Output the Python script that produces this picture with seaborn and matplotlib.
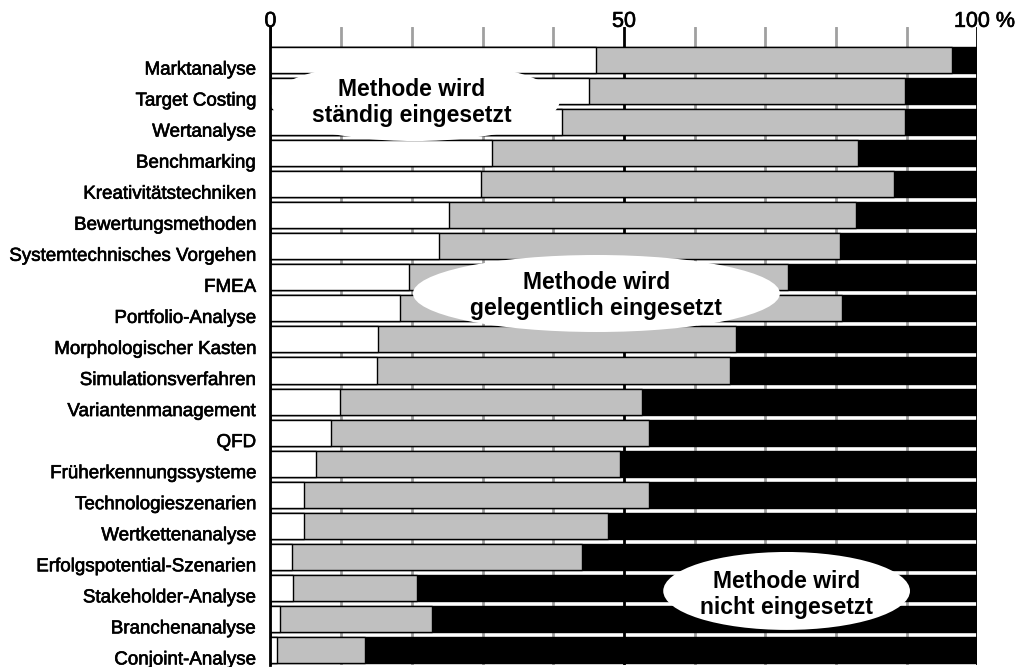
import matplotlib
matplotlib.use("Agg")
import matplotlib.pyplot as plt
import matplotlib.patheffects as pe
import seaborn as sns
import pandas as pd
from matplotlib.patches import Ellipse
from matplotlib.transforms import ScaledTranslation

# ---- data (percent of companies) ----
methods = [
    "Marktanalyse", "Target Costing", "Wertanalyse", "Benchmarking",
    "Kreativitätstechniken", "Bewertungsmethoden", "Systemtechnisches Vorgehen",
    "FMEA", "Portfolio-Analyse", "Morphologischer Kasten", "Simulationsverfahren",
    "Variantenmanagement", "QFD", "Früherkennungssysteme", "Technologieszenarien",
    "Wertkettenanalyse", "Erfolgspotential-Szenarien", "Stakeholder-Analyse",
    "Branchenanalyse", "Conjoint-Analyse",
]
staendig = [46.1, 45.0, 41.3, 31.3, 29.8, 25.3, 23.8, 19.6, 18.3, 15.2,
            15.0, 9.9, 8.5, 6.5, 4.7, 4.8, 3.0, 3.2, 1.4, 0.9]
gelegentlich = [50.3, 44.7, 48.4, 51.8, 58.4, 57.5, 56.7, 53.6, 62.5, 50.7,
                50.0, 42.6, 45.1, 43.0, 48.9, 43.0, 41.0, 17.5, 21.4, 12.5]
nicht = [round(100 - a - b, 1) for a, b in zip(staendig, gelegentlich)]

tick_values = [0, 50, 100]
tick_labels = ["0", "50", "100 %"]
grid_values = [10, 20, 30, 40, 60, 70, 80, 90]

legend_texts = ["Methode wird\nständig eingesetzt",
                "Methode wird\ngelegentlich eingesetzt",
                "Methode wird\nnicht eingesetzt"]

df = pd.DataFrame({"Methode": methods, "staendig": staendig,
                   "gelegentlich": gelegentlich, "nicht": nicht})
df["cum_gel"] = df["staendig"] + df["gelegentlich"]
df["total"] = df["cum_gel"] + df["nicht"]

sns.set_theme(style="white")
plt.rcParams["font.family"] = ["Liberation Sans", "DejaVu Sans"]

W, H = 1020, 667
fig = plt.figure(figsize=(W / 100, H / 100), dpi=100)
ax = fig.add_axes([270.5 / W, 2 / H, 707 / W, 638 / H])

common = dict(y="Methode", orient="h", width=0.84, saturation=1,
              edgecolor="black", linewidth=1.0, ax=ax, zorder=2)
sns.barplot(data=df, x="total", color="black", **common)
sns.barplot(data=df, x="cum_gel", color="#c0c0c0", **common)
sns.barplot(data=df, x="staendig", color="white", **common)

# grid lines behind bars
for g in grid_values:
    ax.axvline(g, color="#a0a0a0", lw=2, zorder=0.5)
for g in tick_values:
    ax.axvline(g, color="black", lw=2, zorder=0.6)

ax.set_xlim(0, 100)
ax.set_ylim(19.485, -1.063)
ax.set_xlabel("")
ax.set_ylabel("")

ax.xaxis.tick_top()
ax.set_xticks(tick_values, labels=tick_labels)
ax.tick_params(axis="x", length=0, pad=-3.5, labelsize=15.5, colors="black")
ax.tick_params(axis="y", length=0, pad=10.5, labelsize=13.5, colors="black")

for s in ["top", "right", "bottom"]:
    ax.spines[s].set_visible(False)
ax.spines["left"].set_color("black")
ax.spines["left"].set_linewidth(2)
ax.spines["left"].set_zorder(6)

heavy = [pe.withStroke(linewidth=0.45, foreground="black")]

fig.canvas.draw()
down = ScaledTranslation(0, -8 / 100, fig.dpi_scale_trans)
for lab in ax.get_yticklabels():
    lab.set_transform(lab.get_transform() + down)
    lab.set_path_effects(heavy)
right = ScaledTranslation(7 / 100, 0, fig.dpi_scale_trans)
xl = ax.get_xticklabels()
xl[-1].set_transform(xl[-1].get_transform() + right)
for lab in xl:
    lab.set_path_effects(heavy)

# explanatory ovals
ovals = [
    ((20.4, 1.32), 41.0, 2.58, (20.0, 1.36)),
    ((46.1, 7.52), 51.9, 2.48, (46.1, 7.58)),
    ((73.0, 17.10), 34.9, 2.51, (73.0, 17.22)),
]
for (center, w, h, tpos), txt in zip(ovals, legend_texts):
    ax.add_patch(Ellipse(center, w, h, facecolor="white", edgecolor="none",
                         zorder=5, clip_on=False))
    ax.text(tpos[0], tpos[1], txt, ha="center", va="center", fontsize=16.5,
            fontweight="bold", color="black", linespacing=1.15, zorder=7)

fig.savefig("out.png", dpi=100)
